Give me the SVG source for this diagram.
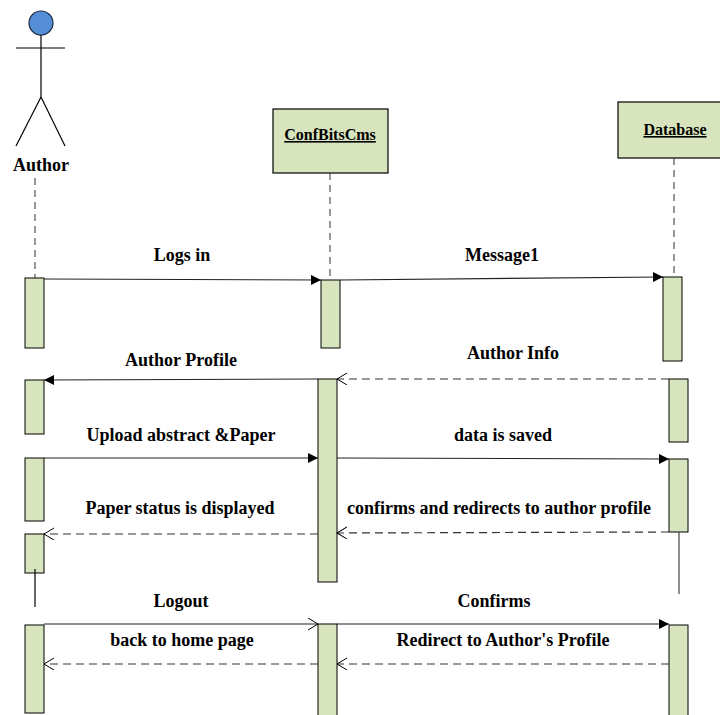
<svg xmlns="http://www.w3.org/2000/svg" width="720" height="715" viewBox="0 0 720 715">
<style>
.lbl{font-family:"Liberation Serif","Times New Roman",serif;font-weight:bold;font-size:18px;fill:#000;text-anchor:middle}
.hdr{font-family:"Liberation Serif","Times New Roman",serif;font-weight:bold;font-size:16px;fill:#000;text-anchor:middle;text-decoration:underline}
.box{fill:#d7e4bd;stroke:#000;stroke-width:1.2}
.act{fill:#d7e4bd;stroke:#000;stroke-width:1}
.life{stroke:#333;stroke-width:1;stroke-dasharray:7,5;fill:none}
.sol{stroke:#222;stroke-width:1.2;fill:none}
.dash{stroke:#333;stroke-width:1.2;fill:none;stroke-dasharray:8,5}
.fig{stroke:#000;stroke-width:1.2;fill:none}
</style>
<defs>
<marker id="filled" markerUnits="userSpaceOnUse" markerWidth="12" markerHeight="12" refX="10" refY="5" orient="auto">
<path d="M0,0 L10,5 L0,10 z" fill="#000"/>
</marker>
<marker id="open" markerUnits="userSpaceOnUse" markerWidth="14" markerHeight="14" refX="10" refY="6" orient="auto">
<path d="M0,0 L10,6 L0,12" fill="none" stroke="#000" stroke-width="1"/>
</marker>
</defs>
<rect width="720" height="715" fill="#fff"/>

<g id="node-author">
<circle cx="41" cy="23" r="12" fill="#558ed5" stroke="#1f2d4a" stroke-width="1.2"/>
<line class="fig" x1="41" y1="35" x2="41" y2="97"/>
<line class="fig" x1="16" y1="48" x2="65" y2="48"/>
<line class="fig" x1="41" y1="97" x2="16" y2="146"/>
<line class="fig" x1="41" y1="97" x2="65" y2="146"/>
<text class="lbl" x="41" y="171">Author</text>
<line class="life" x1="35" y1="178" x2="35" y2="278"/>
<rect class="act" x="25" y="278" width="19" height="70"/>
<rect class="act" x="25" y="380" width="19" height="54"/>
<rect class="act" x="25" y="458" width="19" height="63"/>
<rect class="act" x="25" y="534" width="19" height="39"/>
<line x1="35" y1="569" x2="35" y2="607" stroke="#000" stroke-width="1.2"/>
<rect class="act" x="25" y="625" width="19" height="88"/>
</g>

<g id="node-confbitscms">
<rect class="box" x="273" y="109" width="115" height="64"/>
<text class="hdr" x="330" y="140">ConfBitsCms</text>
<line class="life" x1="330" y1="173" x2="330" y2="280"/>
<rect class="act" x="321" y="280" width="19" height="68"/>
<rect class="act" x="318" y="379" width="19" height="203"/>
<rect class="act" x="318" y="624" width="19" height="95"/>
</g>

<g id="node-database">
<rect class="box" x="618" y="102" width="114" height="56"/>
<text class="hdr" x="675" y="135">Database</text>
<line class="life" x1="674" y1="158" x2="674" y2="277"/>
<rect class="act" x="663" y="277" width="19" height="84"/>
<rect class="act" x="669" y="379" width="19" height="63"/>
<rect class="act" x="669" y="459" width="19" height="73"/>
<line x1="679" y1="532" x2="679" y2="594" stroke="#444" stroke-width="1.2"/>
<rect class="act" x="669" y="625" width="19" height="94"/>
</g>

<g id="connectors">
<line class="sol" x1="44" y1="279" x2="321" y2="280" marker-end="url(#filled)"/>
<line class="sol" x1="340" y1="280" x2="663" y2="277" marker-end="url(#filled)"/>
<line class="dash" x1="669" y1="379" x2="337" y2="379" marker-end="url(#open)"/>
<line class="sol" x1="318" y1="379" x2="44" y2="380" marker-end="url(#filled)"/>
<line class="sol" x1="44" y1="458" x2="318" y2="458" marker-end="url(#filled)"/>
<line class="sol" x1="337" y1="458" x2="669" y2="459" marker-end="url(#filled)"/>
<line class="dash" x1="669" y1="532" x2="337" y2="533" marker-end="url(#open)"/>
<line class="dash" x1="318" y1="534" x2="44" y2="534" marker-end="url(#open)"/>
<line class="sol" x1="44" y1="624" x2="318" y2="624" marker-end="url(#open)"/>
<line class="sol" x1="337" y1="624" x2="669" y2="624" marker-end="url(#filled)"/>
<line class="dash" x1="318" y1="664" x2="44" y2="664" marker-end="url(#open)"/>
<line class="dash" x1="669" y1="664" x2="337" y2="664" marker-end="url(#open)"/>
</g>

<g id="labels">
<text class="lbl" x="182" y="261">Logs in</text>
<text class="lbl" x="502" y="261">Message1</text>
<text class="lbl" x="181" y="366">Author Profile</text>
<text class="lbl" x="513" y="359">Author Info</text>
<text class="lbl" x="181" y="441">Upload abstract &amp;Paper</text>
<text class="lbl" x="503" y="441">data is saved</text>
<text class="lbl" x="180" y="514">Paper status is displayed</text>
<text class="lbl" x="499" y="514">confirms and redirects to author profile</text>
<text class="lbl" x="181" y="607">Logout</text>
<text class="lbl" x="494" y="607">Confirms</text>
<text class="lbl" x="182" y="646">back to home page</text>
<text class="lbl" x="503" y="646">Redirect to Author's Profile</text>
</g>
</svg>
